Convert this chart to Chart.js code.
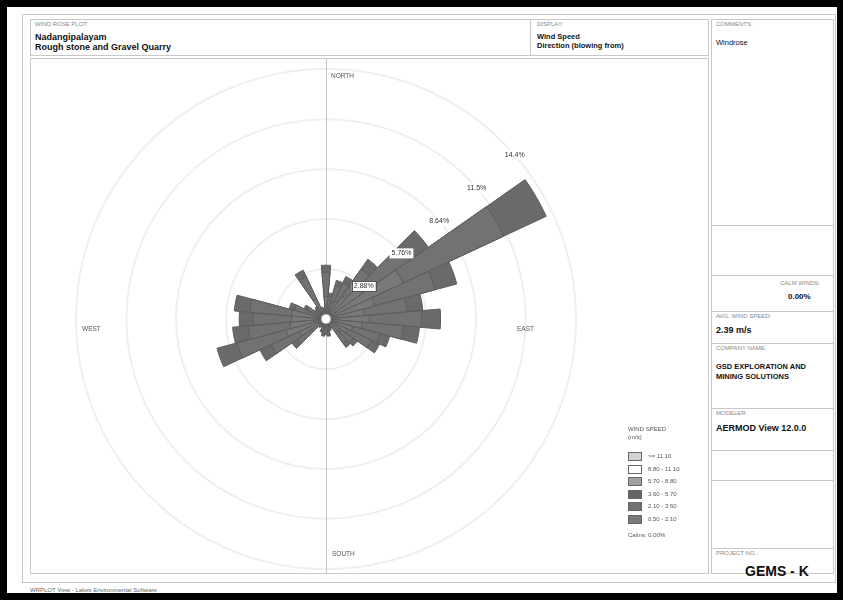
<!doctype html>
<html lang="en">
<head>
<meta charset="UTF-8">
<title>Wind Rose</title>
<script src="https://cdn.jsdelivr.net/npm/chart.js@4.4.1/dist/chart.umd.min.js"></script>
<style>
  body { margin: 0; background: #000; width: 843px; height: 600px; overflow: hidden; font-family: "Liberation Sans", Arial, sans-serif; }
  #page { position: absolute; left: 7px; top: 7px; width: 830px; height: 586px; background: #fff; }
  .box { position: absolute; border: 1px solid #c8c8c8; box-sizing: border-box; }
  .hl { position: absolute; height: 1px; background: #c8c8c8; }
  .vl { position: absolute; width: 1px; background: #c8c8c8; }
  .t { position: absolute; white-space: nowrap; color: #111; }
  .lab { font-size: 6px; color: #888; }
  #legend { position: absolute; left: 628px; top: 426px; font-size: 6px; color: #555; }
</style>
</head>
<body>
<div id="page"></div>
<!-- frame -->
<div class="box" style="left:22px;top:14px;width:814px;height:569px"></div>
<div class="box" style="left:30px;top:19px;width:679px;height:37px"></div>
<div class="vl" style="left:530px;top:19px;height:37px"></div>
<div class="box" style="left:30px;top:58px;width:679px;height:516px"></div>
<div class="box" style="left:711px;top:19px;width:123px;height:555px"></div>
<div class="hl" style="left:711px;top:225px;width:123px"></div>
<div class="hl" style="left:711px;top:275px;width:123px"></div>
<div class="hl" style="left:711px;top:311px;width:123px"></div>
<div class="hl" style="left:711px;top:343px;width:123px"></div>
<div class="hl" style="left:711px;top:408px;width:123px"></div>
<div class="hl" style="left:711px;top:450px;width:123px"></div>
<div class="hl" style="left:711px;top:480px;width:123px"></div>
<div class="hl" style="left:711px;top:548px;width:123px"></div>

<!-- title block -->
<div class="t lab" style="left:35px;top:21px">WIND ROSE PLOT:</div>
<div class="t" style="left:35px;top:32px;font-size:9px;font-weight:bold">Nadangipalayam</div>
<div class="t" style="left:35px;top:42px;font-size:9px;font-weight:bold">Rough stone and Gravel Quarry</div>
<div class="t lab" style="left:537px;top:21px">DISPLAY:</div>
<div class="t" style="left:537px;top:32px;font-size:7.5px;font-weight:bold">Wind Speed</div>
<div class="t" style="left:537px;top:41px;font-size:7.5px;font-weight:bold">Direction (blowing from)</div>

<!-- right panel -->
<div class="t lab" style="left:716px;top:21px">COMMENTS:</div>
<div class="t" style="left:716px;top:38px;font-size:7.5px">Windrose</div>
<div class="t lab" style="left:780px;top:280px">CALM WINDS:</div>
<div class="t" style="left:788px;top:292px;font-size:8px;font-weight:bold">0.00%</div>
<div class="t lab" style="left:716px;top:313px">AVG. WIND SPEED:</div>
<div class="t" style="left:716px;top:325px;font-size:9px;font-weight:bold">2.39 m/s</div>
<div class="t lab" style="left:716px;top:345px">COMPANY NAME:</div>
<div class="t" style="left:716px;top:362px;font-size:7.5px;font-weight:bold">GSD EXPLORATION AND</div>
<div class="t" style="left:716px;top:372px;font-size:7.5px;font-weight:bold">MINING SOLUTIONS</div>
<div class="t lab" style="left:716px;top:410px">MODELER:</div>
<div class="t" style="left:716px;top:423px;font-size:9px;font-weight:bold">AERMOD View 12.0.0</div>
<div class="t lab" style="left:716px;top:550px">PROJECT NO.:</div>
<div class="t" style="left:745px;top:563px;font-size:14px;font-weight:bold">GEMS - K</div>
<div class="t lab" style="left:30px;top:587px;color:#666">WRPLOT View - Lakes Environmental Software</div>

<div style="position:absolute;left:30px;top:58px;width:679px;height:516px">
  <canvas id="rose"></canvas>
</div>
<div id="legend"></div>

<script>
// Data-----
const directions = [0, 10, 20, 30, 40, 50, 60, 70, 80, 90, 100, 110, 120, 130, 140, 150, 160, 170,
                    180, 190, 200, 210, 220, 230, 240, 250, 260, 270, 280, 290, 300, 310, 320, 330, 340, 350];
// frequency (%) per direction for each speed class
const speed050_210 = [1.3, 0.7, 1.0, 1.1, 1.6, 2.6, 4.9, 2.9, 2.2, 2.5, 2.1, 1.6, 1.4, 1.0, 0.9, 0.3, 0.4, 0.5,
                      0.5, 0.5, 0.4, 0.3, 0.3, 1.0, 1.7, 2.4, 2.1, 2.0, 2.0, 1.0, 0.6, 0.4, 0.4, 1.3, 0.4, 0.3];
const speed210_360 = [1.4, 0.6, 1.0, 1.2, 1.9, 3.3, 6.4, 3.6, 2.5, 3.0, 2.4, 1.6, 1.5, 0.9, 0.8, 0.3, 0.3, 0.4,
                      0.4, 0.4, 0.3, 0.2, 0.3, 1.0, 1.8, 2.9, 2.4, 2.2, 2.4, 0.9, 0.6, 0.3, 0.4, 1.4, 0.3, 0.3];
const speed360_570 = [0.4, 0.2, 0.3, 0.4, 0.7, 1.3, 2.7, 1.3, 0.9, 1.1, 0.9, 0.6, 0.5, 0.3, 0.3, 0.0, 0.0, 0.1,
                      0.0, 0.1, 0.1, 0.0, 0.0, 0.4, 0.7, 1.2, 0.9, 0.8, 0.9, 0.3, 0.2, 0.1, 0.1, 0.4, 0.0, 0.0];
const ringTicks = [2.88, 5.76, 8.64, 11.5, 14.4];
const speedLabels = [">= 11.10", "8.80 - 11.10", "5.70 - 8.80", "3.60 - 5.70", "2.10 - 3.60", "0.50 - 2.10"];
const calms = "0.00%";
// Data-----

const legendColors = ["#d2d2d2", "#ffffff", "#a0a0a0", "#666666", "#727272", "#797979"];

// cumulative stacks, smallest first so it ends up on top
const stack1 = speed050_210;
const stack2 = stack1.map((v, i) => v + speed210_360[i]);
const stack3 = stack2.map((v, i) => v + speed360_570[i]);

const roseExtras = {
  id: 'roseExtras',
  beforeDatasetsDraw(chart) {
    const ctx = chart.ctx, s = chart.scales.r;
    ctx.save();
    ctx.strokeStyle = '#c4c4c4';
    ctx.lineWidth = 1;
    ctx.beginPath();
    ctx.moveTo(s.xCenter + 0.5, 0);
    ctx.lineTo(s.xCenter + 0.5, chart.height);
    ctx.stroke();
    ctx.restore();
  },
  afterDatasetsDraw(chart) {
    const ctx = chart.ctx, s = chart.scales.r;
    const cx = s.xCenter, cy = s.yCenter;
    ctx.save();
    // calm circle
    ctx.fillStyle = '#fff';
    ctx.strokeStyle = '#888';
    ctx.beginPath();
    ctx.arc(cx, cy, 5, 0, Math.PI * 2);
    ctx.fill();
    ctx.stroke();
    // ring labels
    ctx.font = '7px "Liberation Sans", Arial';
    ctx.textAlign = 'center';
    ctx.textBaseline = 'middle';
    const ang = 49 * Math.PI / 180;
    ringTicks.forEach((v, i) => {
      const r = s.getDistanceFromCenterForValue(v);
      const x = cx + r * Math.sin(ang), y = cy - r * Math.cos(ang);
      const txt = v.toFixed(v < 10 ? 2 : 1) + '%';
      const w = ctx.measureText(txt).width + 4;
      ctx.fillStyle = '#fff';
      ctx.fillRect(x - w / 2, y - 5, w, 10);
      if (i === 0) {
        ctx.strokeStyle = '#555';
        ctx.strokeRect(Math.round(x - w / 2) + 0.5, Math.round(y - 5) + 0.5, Math.round(w), 10);
      }
      ctx.fillStyle = '#333';
      ctx.fillText(txt, x, y);
    });
    // compass labels
    ctx.font = '6.5px "Liberation Sans", Arial';
    ctx.fillStyle = '#555';
    ctx.textAlign = 'left';
    ctx.fillText('NORTH', cx + 5, cy - 243);
    ctx.fillText('SOUTH', cx + 6, cy + 235);
    ctx.fillText('WEST', cx - 244, cy + 10);
    ctx.fillText('EAST', cx + 191, cy + 10);
    ctx.restore();
  }
};

const config = {
  type: 'polarArea',
  data: {
    labels: directions.map(d => d + '°'),
    datasets: [
      { label: '0.50 - 2.10', data: stack1, backgroundColor: '#797979', borderColor: '#5c5c5c', borderWidth: 1 },
      { label: '2.10 - 3.60', data: stack2, backgroundColor: '#727272', borderColor: '#5c5c5c', borderWidth: 1 },
      { label: '3.60 - 5.70', data: stack3, backgroundColor: '#6a6a6a', borderColor: '#5c5c5c', borderWidth: 1 }
    ]
  },
  options: {
    responsive: true,
    maintainAspectRatio: false,
    animation: false,
    layout: { padding: { left: 46, top: 11, right: 133, bottom: 5 } },
    plugins: { legend: { display: false }, tooltip: { enabled: false } },
    scales: {
      r: {
        min: 0,
        max: 14.4,
        startAngle: -5,
        afterBuildTicks(scale) {
          scale.ticks = [0].concat(ringTicks).map(v => ({ value: v }));
        },
        ticks: { display: false },
        grid: { color: '#efefef', lineWidth: 2 },
        angleLines: { display: false },
        pointLabels: { display: false }
      }
    }
  },
  plugins: [roseExtras]
};

new Chart(document.getElementById('rose'), config);

// legend box
const lg = document.getElementById('legend');
let html = '<div>WIND SPEED</div><div style="margin-top:2px">(m/s)</div>';
speedLabels.forEach((t, i) => {
  html += '<div style="position:absolute;left:0;top:' + (26 + i * 12.6) + 'px;width:14px;height:9px;border:1px solid #666;box-sizing:border-box;background:' + legendColors[i] + '"></div>' +
          '<div style="position:absolute;left:20px;top:' + (27 + i * 12.6) + 'px;white-space:nowrap">' + t + '</div>';
});
html += '<div style="position:absolute;left:0;top:106px;white-space:nowrap">Calms: ' + calms + '</div>';
lg.innerHTML = html;
</script>
</body>
</html>
